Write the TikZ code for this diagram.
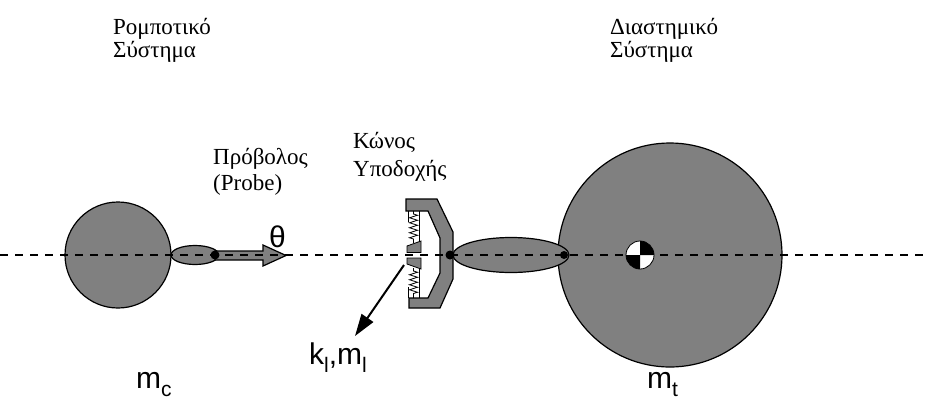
\documentclass[tikz,border=0pt]{standalone}
\usepackage{fontspec}
\setmainfont{Liberation Serif}
\setsansfont{Liberation Sans}
\usetikzlibrary{arrows.meta,decorations.pathmorphing}
\tikzset{%
  % Specifications for bodies, joints and labels:
    body/.style = {draw=black, fill=black!50, line width=1.2pt},
    joint/.style = {circle, fill=black, inner sep=0pt, minimum size=9pt},
    axis/.style = {line width=1.8pt, dash pattern=on 8pt off 7pt},
    spring/.style = {decorate, line width=0.8pt,
                     decoration={zigzag, segment length=5pt, amplitude=4pt,
                                 pre length=3pt, post length=3pt}},
    guide/.style = {line width=0.8pt},
    caption/.style = {font=\fontsize{23}{26}\selectfont, align=left,
                      anchor=base west, inner sep=0pt},
    sym/.style = {font=\sffamily\fontsize{30}{32}\selectfont,
                  anchor=base west, inner sep=0pt}%
}
\newcommand{\lowidx}[1]{\raisebox{-0.28em}{\fontsize{21}{21}\selectfont #1}}

\begin{document}
\begin{tikzpicture}[x=1pt,y=-1pt]
\useasboundingbox (0,0) rectangle (926,400);

% chaser body and probe
\draw[body] (118,255) circle (53);
\draw[body] (195,255) ellipse (24 and 9.5);
\draw[body] (215,251) -- (263,251) -- (263,245) -- (286,255.5) -- (263,266)
  -- (263,260) -- (215,260) -- cycle;

% target body and arm
\draw[body] (670,255) circle (112);
\draw[body] (511,255) ellipse (58 and 17.5);

% receiving cone
\draw[body] (406,199) -- (437,199) -- (453,232) -- (453,279) -- (440,308)
  -- (409,308) -- (409,298) -- (428,298) -- (440,273) -- (440,238)
  -- (428,211) -- (406,211) -- cycle;

% latches with springs
\draw[spring] (413.5,211) -- (413.5,243);
\draw[guide] (408,211) -- (408,222);
\draw[guide] (419.5,211) -- (419.5,242);
\draw[spring] (413.5,268) -- (413.5,298);
\draw[guide] (408,287) -- (408,298);
\draw[guide] (419.5,269) -- (419.5,298);
\draw[body,line width=0.8pt] (407,246) -- (421,241) -- (421,252.5) -- (407,252.5) -- cycle;
\draw[body,line width=0.8pt] (407,258) -- (421,258) -- (421,269) -- (407,264) -- cycle;

% docking axis
\draw[axis] (0,255) -- (926,255);

\node[joint] (probe tip) at (215,255) {};
\node[joint] (cone hub) at (450,255) {};
\node[joint,minimum size=8pt] (arm end) at (564,255) {};

% centre of mass of the target
\coordinate (cm) at (640,255);
\fill[white] (cm) circle (14);
\fill[black] (cm) -- ++(0:14) arc[start angle=0, end angle=-90, radius=14] -- cycle;
\fill[black] (cm) -- ++(180:14) arc[start angle=180, end angle=90, radius=14] -- cycle;
\draw[line width=0.8pt] (cm) circle (14);

% latch arrow
\coordinate (latch) at (404,265);
\coordinate (kl tip) at (355,336);
\draw[-{Triangle[length=22pt,width=14pt]}, line width=2pt] (latch) -- (kl tip);

% labels (anchored on the last line)
\node[caption,font=\fontsize{23}{23}\selectfont] (robot) at (113,57) {Ρομποτικό\\Σύστημα};
\node[caption,font=\fontsize{23}{23}\selectfont] (space) at (610,57) {Διαστημικό\\Σύστημα};
\node[caption] (probe) at (213,190) {Πρόβολος\\(Probe)};
\node[caption,font=\fontsize{23}{28}\selectfont] (cone) at (353,176) {Κώνος\\Υποδοχής};

\node[sym] (theta) at (269,247) {θ};
\node[sym] (mc) at (136,388) {m\lowidx{c}};
\node[sym] (klm) at (309,364) {k\lowidx{l},m\lowidx{l}};
\node[sym] (mt) at (647,388) {m\lowidx{t}};

\end{tikzpicture}
\end{document}
